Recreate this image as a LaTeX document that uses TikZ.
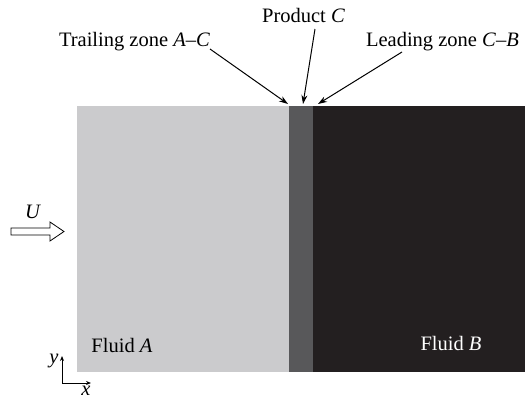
\documentclass[tikz,border=0pt]{standalone}
\usepackage{fontspec}
\setmainfont{Liberation Serif}
\usetikzlibrary{arrows.meta}
\definecolor{lightA}{HTML}{CBCBCD}
\definecolor{prodC}{HTML}{58585A}
\definecolor{darkB}{HTML}{231F20}
\tikzset{
  lbl/.style={font=\fontsize{20.5}{24}\selectfont, inner sep=0pt},
  region/.style={anchor=north west, inner sep=0pt, minimum height=266pt, draw=none},
  pointer/.style={line width=1pt, -{Stealth[length=9pt,width=6pt]}},
  axis/.style={line width=1pt, -{Stealth[length=5pt,width=4pt]}}
}
\begin{document}
\begin{tikzpicture}[x=1pt,y=-1pt]
\useasboundingbox (0,0) rectangle (525,399);
\fill[white] (0,0) rectangle (525,399);
% regions
\node[region, fill=lightA, minimum width=212pt] (fa) at (77,106) {};
\node[region, fill=prodC, minimum width=24pt] (pc) at (289,106) {};
\node[region, fill=darkB, minimum width=212pt] (fb) at (313,106) {};
% labels
\node[lbl] (ltrail) at (134.5,42) {Trailing zone \textit{A}–\textit{C}};
\node[lbl] (lprod) at (303.5,15) {Product \textit{C}};
\node[lbl, anchor=east] (llead) at (519,42) {Leading zone \textit{C}–\textit{B}};
\node[lbl] (lfa) at (122,345) {Fluid \textit{A}};
\node[lbl, text=white] (lfb) at (451,343) {Fluid \textit{B}};
% pointer coordinates
\coordinate (s1) at (210,49);
\coordinate (e1) at (288,104);
\coordinate (s2) at (315,29);
\coordinate (e2) at (303,104);
\coordinate (s3) at (402,52);
\coordinate (e3) at (318,104);
\draw[pointer] (s1) -- (e1);
\draw[pointer] (s2) -- (e2);
\draw[pointer] (s3) -- (e3);
% U arrow
\node[lbl] (lu) at (33,212) {\textit{U}};
\draw[line width=0.8pt, fill=white] (11,228) -- (50,228) -- (50,222) -- (64,231.5) -- (50,241) -- (50,235) -- (11,235) -- cycle;
% axes
\coordinate (o) at (62,383);
\coordinate (ax) at (91,383);
\coordinate (ay) at (62,356);
\draw[axis] (o) -- (ax);
\draw[axis] (o) -- (ay);
\node[lbl] (ly) at (54,361) {\textit{y}};
\node[lbl] (lx) at (86,391) {\textit{x}};
\end{tikzpicture}
\end{document}
